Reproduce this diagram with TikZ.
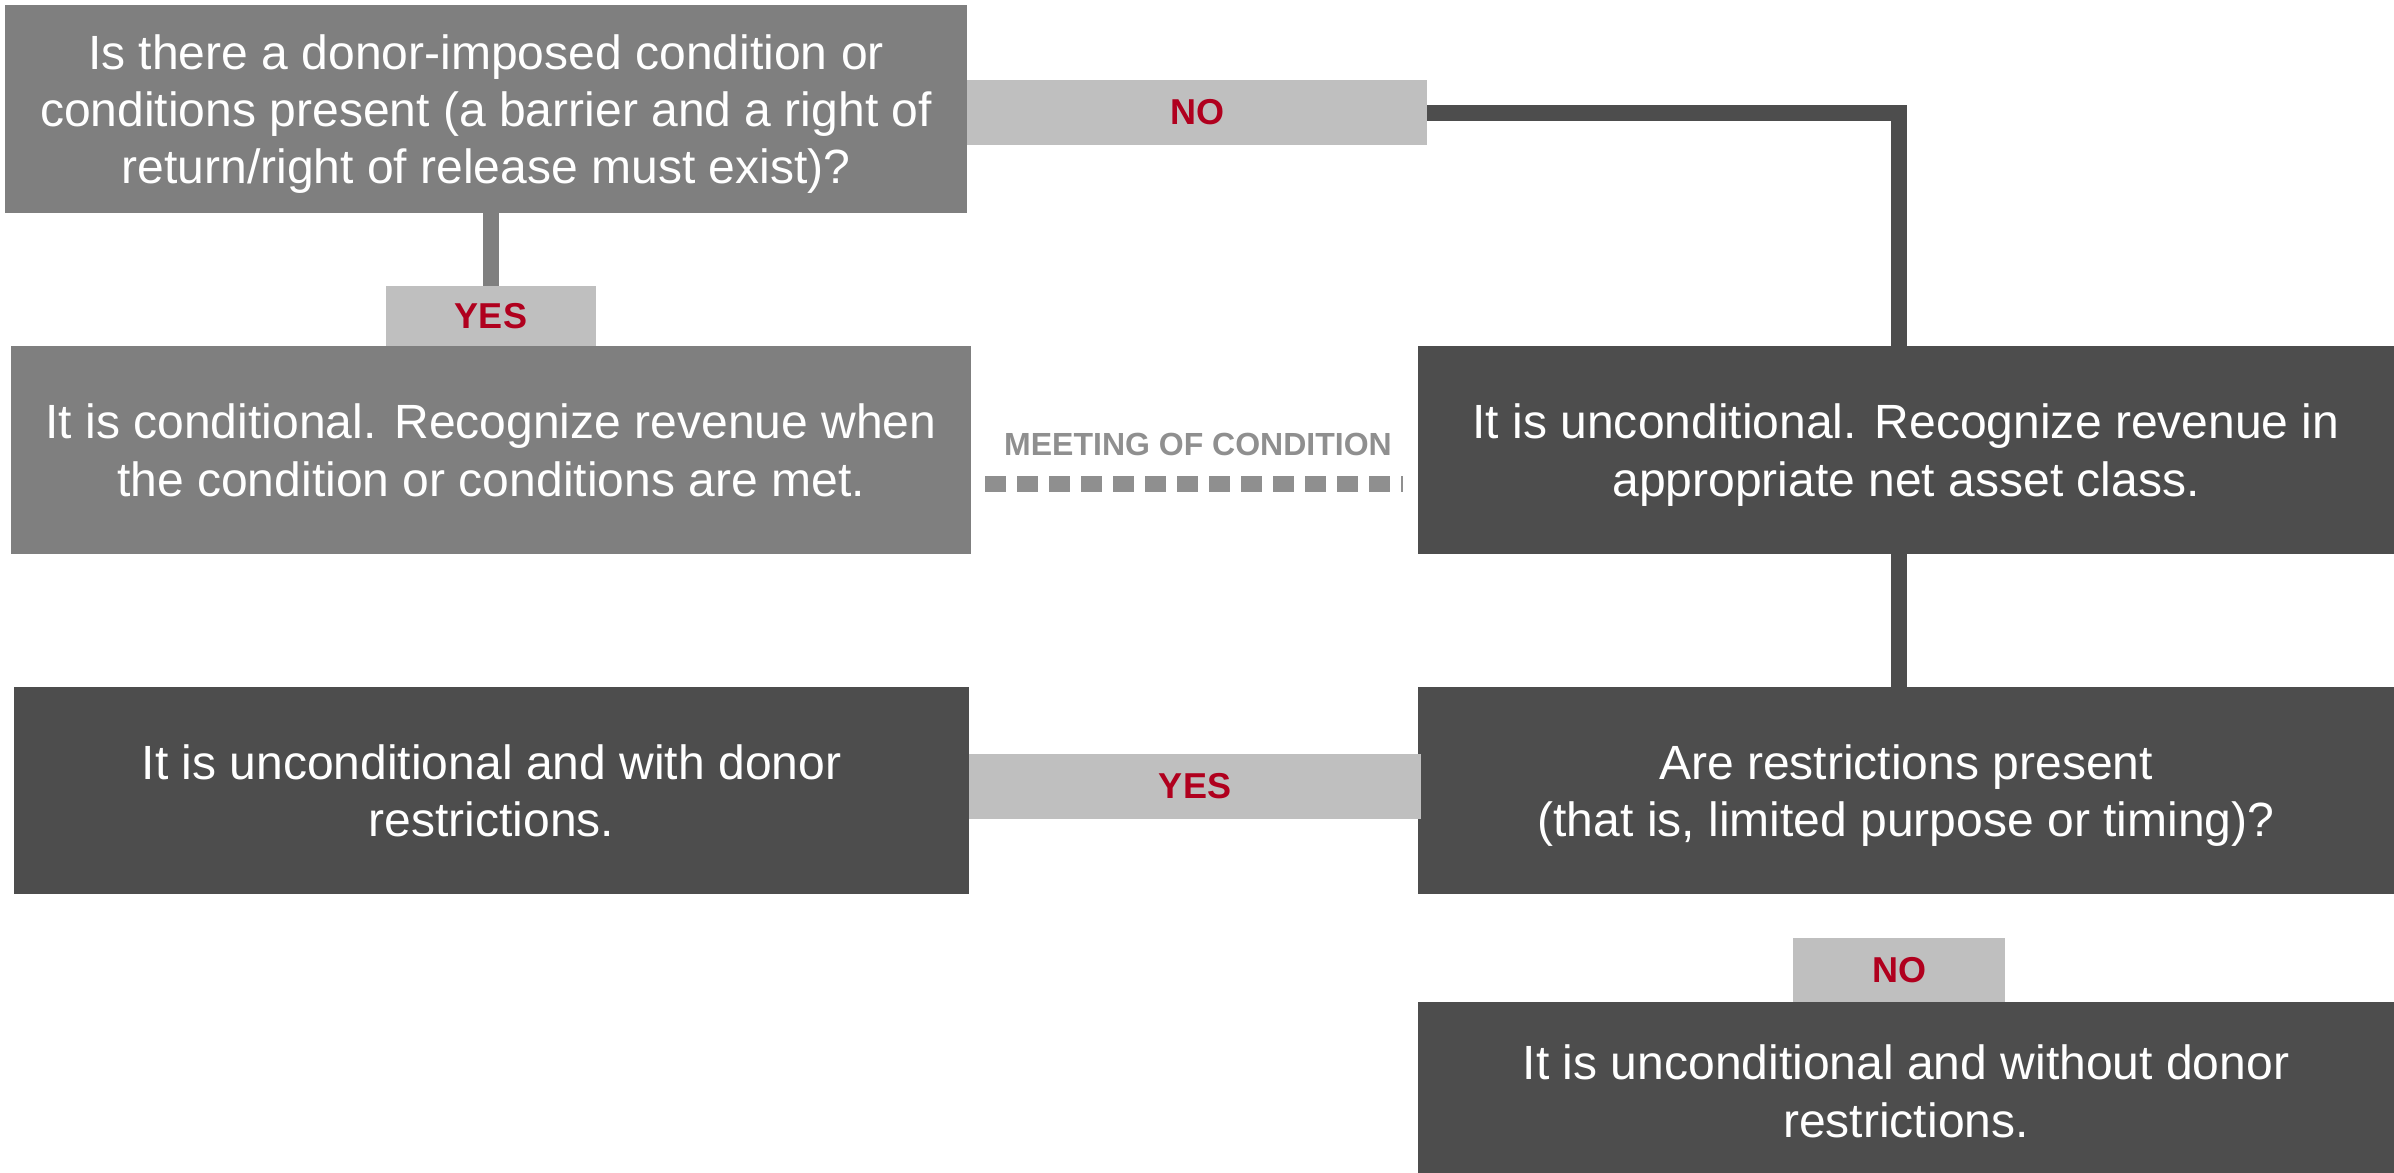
\documentclass[tikz,border=0pt]{standalone}
\usepackage{fontspec}
\setmainfont{Liberation Sans}
\definecolor{midgray}{HTML}{7F7F7F}
\definecolor{darkgray}{HTML}{4D4D4D}
\definecolor{tabgray}{HTML}{BFBFBF}
\definecolor{linkgray}{HTML}{8F8F8F}
\definecolor{answerred}{HTML}{B0001E}
\begin{document}
\begin{tikzpicture}[x=0.01cm,y=-0.01cm,
  box/.style={rectangle, inner sep=0pt, outer sep=0pt, text=white, align=center,
    text depth=0pt, font=\fontsize{13.66}{16.3}\selectfont, minimum height=2.08cm},
  lightbox/.style={box, fill=midgray},
  darkbox/.style={box, fill=darkgray},
  answer/.style={rectangle, inner sep=0pt, outer sep=0pt, fill=tabgray,
    text=answerred, font=\fontsize{10.24}{12}\selectfont\bfseries},
  thinlink/.style={draw=midgray, line width=0.16cm},
  thicklink/.style={draw=darkgray, line width=0.16cm},
  meetlink/.style={draw=linkgray, line width=0.16cm, dash pattern=on 0.21cm off 0.11cm}
]
\useasboundingbox (0,0) rectangle (2394,1172);
\clip (0,0) rectangle (2394,1172);

% decision and outcome boxes
\node[lightbox, minimum width=9.62cm] (q1) at (486,109)
  {Is there a donor-imposed condition or\\conditions present (a barrier and a right of\\return/right of release must exist)?};
\node[lightbox, minimum width=9.60cm] (cond) at (491,450)
  {It is conditional. Recognize revenue when\\the condition or conditions are met.};
\node[darkbox, minimum width=9.76cm] (uncond) at (1906,450)
  {It is unconditional. Recognize revenue in\\appropriate net asset class.};
\node[darkbox, minimum width=9.76cm, minimum height=2.07cm] (q2) at (1906,790.5)
  {Are restrictions present\\(that is, limited purpose or timing)?};
\node[darkbox, minimum width=9.55cm, minimum height=2.07cm] (with) at (491.5,790.5)
  {It is unconditional and with donor\\restrictions.};
\node[darkbox, minimum width=9.76cm, minimum height=1.78cm] (without) at (1906,1091)
  {It is unconditional and without donor\\restrictions.};

% answer tabs
\node[answer, minimum width=4.60cm, minimum height=0.65cm] (no1) at (1197,112.5) {NO};
\node[answer, minimum width=2.10cm, minimum height=0.60cm] (yes1) at (491,316) {YES};
\node[answer, minimum width=4.52cm, minimum height=0.65cm] (yes2) at (1195,786.5) {YES};
\node[answer, minimum width=2.12cm, minimum height=0.64cm] (no2) at (1899,970) {NO};

% connectors
\draw[thinlink] (q1.south -| yes1) -- (yes1.north);
\draw[thicklink] (no1.east) -| (no2 |- uncond.north);
\draw[thicklink] (uncond.south -| no2) -- (q2.north -| no2);

% meeting of condition link
\coordinate (mA) at (985,484);
\coordinate (mB) at (1403,484);
\draw[meetlink] (mA) -- (mB);
\node[anchor=base, text=linkgray, font=\fontsize{9.1}{11}\selectfont\bfseries,
  inner sep=0pt] (meet) at (1198,455) {MEETING OF CONDITION};
\end{tikzpicture}
\end{document}
